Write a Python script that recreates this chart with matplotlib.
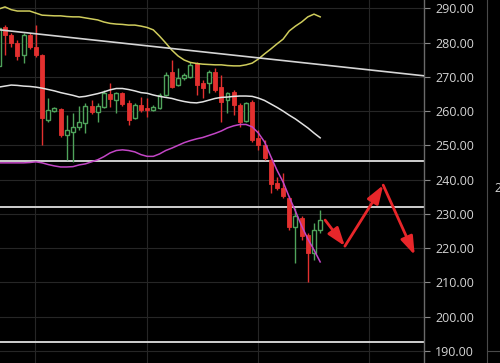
import matplotlib
matplotlib.use('Agg')
import matplotlib.pyplot as plt
from matplotlib.patches import FancyArrowPatch
import numpy as np

# ---- data (prices) ----
opens  = [273.2, 284.5, 282.2, 279.9, 276.4, 282.2, 278.7, 276.4, 257.4, 260.0,
          260.6, 253.0, 253.9, 255.4, 256.5, 261.5, 259.7, 261.2, 265.0, 263.2,
          265.3, 262.4, 258.0, 261.8, 260.9, 260.3, 260.9, 264.7, 271.4, 267.6,
          269.7, 270.0, 274.0, 268.2, 268.2, 271.4, 267.0, 263.2, 265.6, 261.8,
          257.1, 262.7, 252.2, 250.1, 245.8, 239.0, 237.6, 234.7, 226.2, 228.8,
          223.9, 218.6, 225.3]
highs  = [284.5, 285.1, 282.8, 280.7, 282.8, 282.8, 285.1, 276.6, 263.8, 261.2,
          261.0, 258.9, 259.4, 261.5, 262.4, 263.2, 262.4, 266.2, 268.2, 265.6,
          265.6, 263.2, 262.4, 264.1, 263.8, 261.8, 265.3, 271.4, 274.9, 272.6,
          271.1, 274.3, 274.3, 269.1, 272.0, 272.6, 270.5, 265.6, 266.2, 262.4,
          262.7, 263.2, 254.5, 251.6, 246.3, 240.8, 242.0, 235.2, 231.8, 229.4,
          224.4, 227.4, 231.2]
lows   = [272.0, 276.4, 278.7, 274.9, 274.0, 278.1, 275.8, 250.1, 256.8, 259.7,
          252.4, 245.8, 245.2, 254.5, 253.6, 259.1, 256.8, 260.9, 261.2, 259.4,
          261.5, 255.9, 257.7, 259.7, 258.3, 260.0, 260.6, 264.4, 266.7, 267.3,
          269.1, 269.7, 264.7, 263.8, 265.3, 265.6, 256.8, 259.4, 258.9, 255.4,
          256.8, 251.0, 248.7, 245.8, 236.1, 237.0, 234.7, 225.3, 215.7, 222.4,
          210.2, 216.5, 224.4]
closes = [284.2, 282.2, 279.9, 276.1, 282.2, 278.7, 276.4, 258.0, 260.3, 260.9,
          253.0, 254.5, 255.4, 256.8, 261.5, 259.7, 261.5, 265.3, 263.5, 265.3,
          262.1, 257.4, 261.8, 260.3, 260.3, 261.2, 264.7, 270.5, 267.0, 269.7,
          270.5, 273.5, 267.6, 266.7, 271.4, 266.2, 262.7, 265.3, 261.8, 256.8,
          262.4, 251.6, 250.1, 246.3, 238.7, 237.6, 235.2, 226.2, 229.4, 223.6,
          218.6, 225.3, 228.2]

upper_band = [289.8, 290.4, 289.6, 289.2, 289.2, 289.2, 288.6, 288.0, 287.9, 287.8,
              287.8, 287.6, 287.5, 287.5, 287.2, 286.9, 286.6, 286.0, 285.6, 285.4,
              285.3, 285.1, 285.1, 284.8, 284.4, 283.7, 281.9, 279.9, 277.8, 276.1,
              274.9, 274.2, 273.9, 273.7, 273.6, 273.5, 273.5, 273.3, 273.2, 273.2,
              273.5, 274.0, 275.2, 276.7, 278.1, 279.6, 281.0, 283.4, 284.8, 286.0,
              287.5, 288.3, 287.5]
middle_band = [267.0, 267.3, 267.6, 267.5, 267.3, 267.2, 267.0, 266.7, 266.3, 265.9,
               265.4, 265.0, 264.6, 264.1, 264.3, 264.7, 265.1, 265.6, 266.2, 266.6,
               266.6, 266.3, 265.9, 265.4, 265.2, 264.7, 264.3, 264.0, 263.7, 263.2,
               262.8, 262.5, 262.4, 262.7, 263.2, 263.7, 264.0, 264.1, 264.3, 264.4,
               264.4, 264.3, 263.8, 263.1, 262.1, 261.1, 260.0, 258.8, 257.7, 256.4,
               255.1, 253.6, 252.2]
lower_band = [244.9, 244.9, 244.9, 244.9, 244.9, 245.0, 245.2, 244.9, 244.4, 244.0,
              243.7, 243.7, 243.8, 244.3, 244.6, 245.2, 245.8, 246.7, 247.8, 248.5,
              248.7, 248.5, 248.1, 247.3, 246.8, 246.8, 247.5, 248.5, 249.2, 250.0,
              250.8, 251.4, 251.9, 252.3, 252.9, 253.5, 254.2, 255.1, 255.7, 256.1,
              256.1, 255.4, 253.6, 251.0, 246.8, 242.8, 239.3, 234.9, 230.8, 226.5,
              222.7, 219.5, 216.0]

support_levels = [245.5, 232.0, 192.6]
trend_x = [0.19, 68.8]
trend_y = [283.7, 270.3]
forecast_x = [52.8, 56.0, 62.2, 67.3]
forecast_y = [228.2, 220.6, 238.4, 218.0]
price_ticks = [190, 200, 210, 220, 230, 240, 250, 260, 270, 280, 290]
grid_x = [5.9, 23.9, 41.9, 59.9]

# ---- style ----
BG = '#000000'
UP = '#4fa35b'
DOWN = '#e3302f'
W, H, DPI = 500, 363, 100

fig = plt.figure(figsize=(W / DPI, H / DPI), dpi=DPI, facecolor=BG)
ax = fig.add_axes([0, 0, 424 / W, 1.0], facecolor=BG)
ax.set_xlim(0.19, 68.8)
ax.set_ylim(186.5, 292.42)

# grid
ax.set_xticks(grid_x)
ax.set_yticks(price_ticks)
ax.grid(True, color='#262626', linewidth=0.8)
ax.set_axisbelow(True)

x = np.arange(len(opens))
o = np.array(opens); c = np.array(closes); h = np.array(highs); l = np.array(lows)
up = c >= o

# wicks
ax.vlines(x, l, h, colors=np.where(up, UP, DOWN), linewidth=1.0, zorder=3)
# bodies
body_bot = np.minimum(o, c)
body_h = np.maximum(np.abs(c - o), 0.35)
ax.bar(x[~up], body_h[~up], bottom=body_bot[~up], width=0.64,
       color=DOWN, edgecolor=DOWN, linewidth=0.6, zorder=4)
ax.bar(x[up], body_h[up], bottom=body_bot[up], width=0.64,
       color=BG, edgecolor=UP, linewidth=1.0, zorder=4)

# Bollinger bands
ax.plot(x, upper_band, color='#cfcc5c', linewidth=1.1, zorder=5)
ax.plot(x, middle_band, color='#e2e2e2', linewidth=1.1, zorder=5)
ax.plot(x, lower_band, color='#c346c6', linewidth=1.1, zorder=5)

# horizontal levels
for lv in support_levels:
    ax.axhline(lv, color='#cfcfcf', linewidth=1.4, zorder=2)

# trend line
ax.plot(trend_x, trend_y, color='#d5d5d5', linewidth=1.2, zorder=5)

# forecast arrows
for k in range(len(forecast_x) - 1):
    arr = FancyArrowPatch((forecast_x[k], forecast_y[k]),
                          (forecast_x[k + 1], forecast_y[k + 1]),
                          arrowstyle='-|>,head_length=1.1,head_width=0.38',
                          mutation_scale=10, linewidth=2.0, color='#e8262a',
                          shrinkA=0, shrinkB=0, zorder=6)
    ax.add_patch(arr)

# axis styling
for s in ['left', 'top', 'bottom']:
    ax.spines[s].set_visible(False)
ax.spines['right'].set_color('#6a6a6a')
ax.spines['right'].set_linewidth(1.0)
ax.tick_params(axis='x', length=0, labelbottom=False)
ax.yaxis.tick_right()
ax.tick_params(axis='y', direction='out', length=4, width=0.8, color='#8a8a8a',
               labelcolor='#d4d4d4', labelsize=9, pad=4)
ax.set_yticklabels([f'{v:.2f}' for v in price_ticks])
for t in ax.get_yticklabels():
    t.set_family(['Open Sans', 'DejaVu Sans'])

# right-hand panel edge
fig.add_artist(plt.Line2D([487 / W, 487 / W], [0, 1], color='#4a4a4a', linewidth=0.8))
fig.add_artist(plt.Line2D([487 / W, 1], [1 - 351 / H, 1 - 351 / H], color='#4a4a4a', linewidth=0.8))
fig.text(494 / W, 1 - 188 / H, '2', color='#d4d4d4', fontsize=9,
         family=['Open Sans', 'DejaVu Sans'], va='center', ha='left')

fig.savefig('out.png', dpi=DPI, facecolor=BG)
